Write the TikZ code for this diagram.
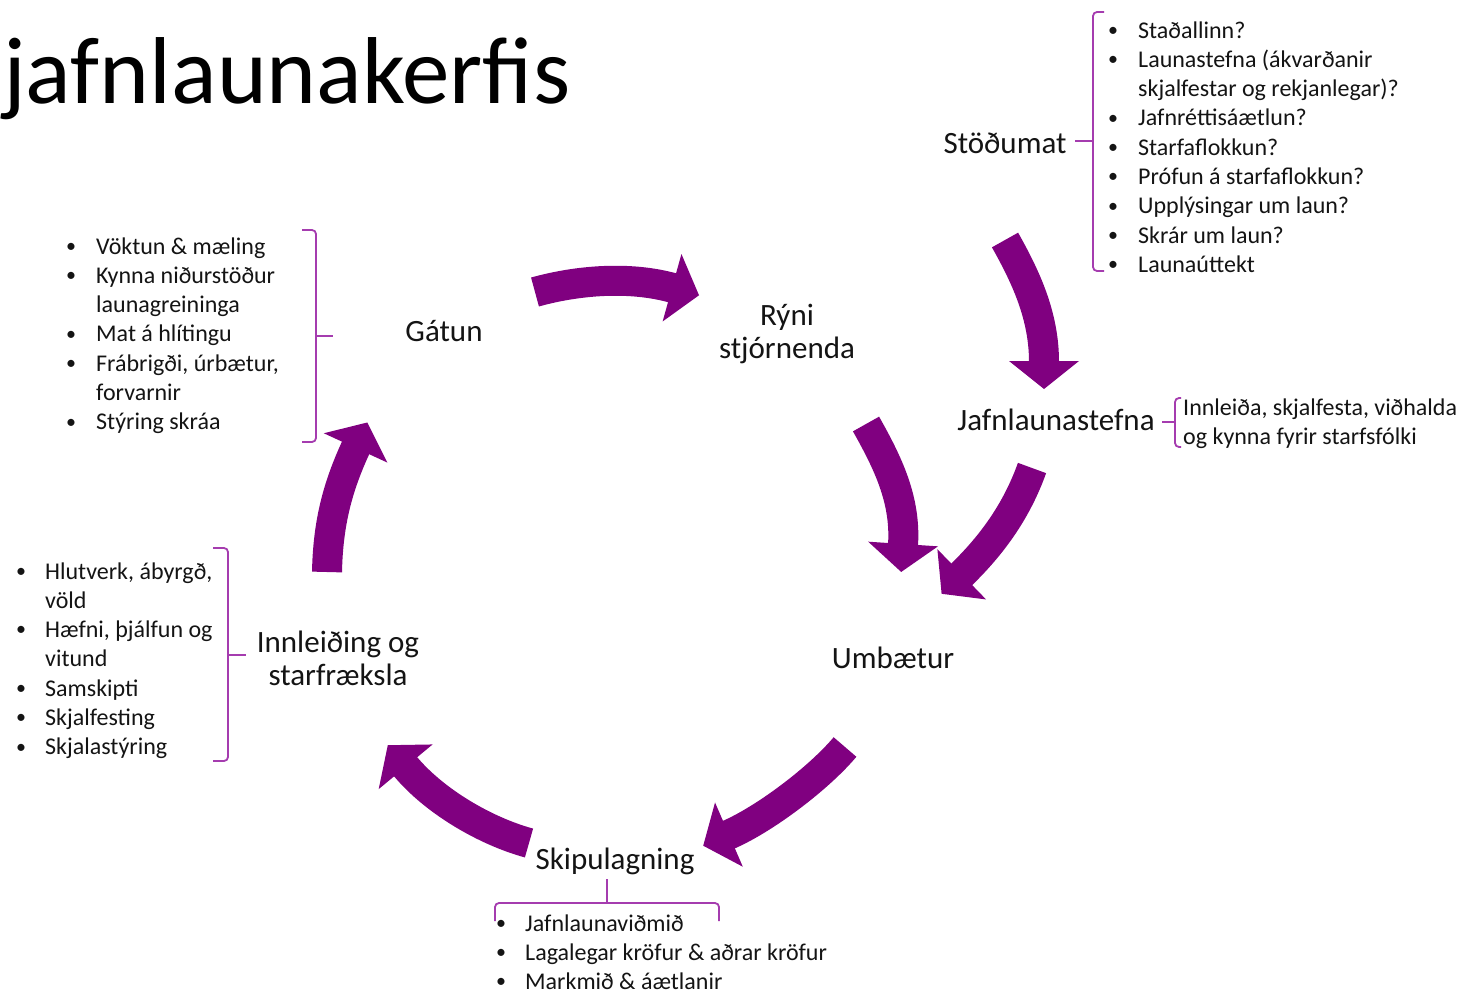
\documentclass[tikz,border=0pt]{standalone}
\usepackage{fontspec}
\setmainfont{Carlito}
\usetikzlibrary{calc}
\definecolor{arrowpurple}{RGB}{128,0,128}
\definecolor{bracepurple}{RGB}{165,60,175}
\definecolor{txt}{RGB}{20,20,20}
\newcommand\blockarrow[4]{%
  \draw[arrowshaft] #1 .. controls #2 and #3 .. #4;
  \coordinate (hb) at ($#4!1pt!#3$);
  \fill[arrowpurple] ($#4!-27pt!#3$) -- ($(hb)!35pt!90:#3$) -- ($(hb)!35pt!-90:#3$) -- cycle;
}
\newcommand\bl{\raisebox{1.8pt}{\fontsize{20}{20}\selectfont •}}
\newcommand\bulletlist[2]{\begin{tabular}[t]{@{}p{#1}@{}l@{}}#2\end{tabular}}
\begin{document}
\begin{tikzpicture}[x=1pt,y=-1pt,
  arrowshaft/.style={draw=arrowpurple, line width=30pt},
  bracestyle/.style={draw=bracepurple, line width=1.8pt, rounded corners=4pt},
  label/.style={inner sep=0pt, anchor=base, text=txt, font=\fontsize{31}{33}\selectfont},
  listtext/.style={inner sep=0pt, anchor=base west, text=txt, font=\fontsize{24}{29.3}\selectfont},
  title/.style={inner sep=0pt, anchor=base west, text=black, font=\fontsize{95}{100}\selectfont}]
\fill[white] (0,0) rectangle (1466,993);
\useasboundingbox (0,0) rectangle (1466,993);

% title
\node[title] (title) at (3,103) {jafnlaunakerfis};

% stage labels
\node[label] (stodumat) at (1005,153) {Stöðumat};
\node[label] (gatun) at (444,341) {Gátun};
\node[label] (ryni) at (787,325) {\begin{tabular}[t]{@{}c@{}}Rýni\\stjórnenda\end{tabular}};
\node[label] (jafnl) at (1056,430) {Jafnlaunastefna};
\node[label] (umbaetur) at (893,668) {Umbætur};
\node[label] (innleiding) at (338,652) {\begin{tabular}[t]{@{}c@{}}Innleiðing og\\starfræksla\end{tabular}};
\node[label] (skipul) at (615,869) {Skipulagning};

% lists
\node[listtext] (list1) at (1108,38) {\bulletlist{30pt}{%
\bl & Staðallinn?\\
\bl & Launastefna (ákvarðanir\\
  & skjalfestar og rekjanlegar)?\\
\bl & Jafnréttisáætlun?\\
\bl & Starfaflokkun?\\
\bl & Prófun á starfaflokkun?\\
\bl & Upplýsingar um laun?\\
\bl & Skrár um laun?\\
\bl & Launaúttekt}};

\node[listtext] (list2) at (66,254) {\bulletlist{30pt}{%
\bl & Vöktun \& mæling\\
\bl & Kynna niðurstöður\\
  & launagreininga\\
\bl & Mat á hlítingu\\
\bl & Frábrigði, úrbætur,\\
  & forvarnir\\
\bl & Stýring skráa}};

\node[listtext] (list3) at (16,579) {\bulletlist{29pt}{%
\bl & Hlutverk, ábyrgð,\\
  & völd\\
\bl & Hæfni, þjálfun og\\
  & vitund\\
\bl & Samskipti\\
\bl & Skjalfesting\\
\bl & Skjalastýring}};

\node[listtext] (list4) at (496,931) {\bulletlist{29pt}{%
\bl & Jafnlaunaviðmið\\
\bl & Lagalegar kröfur \& aðrar kröfur\\
\bl & Markmið \& áætlanir}};

\node[listtext] (list5) at (1183,415) {\begin{tabular}[t]{@{}l@{}}Innleiða, skjalfesta, viðhalda\\og kynna fyrir starfsfólki\end{tabular}};

% braces
\draw[bracestyle] (1104,12) -- (1093,12) -- (1093,271) -- (1104,271);
\draw[bracestyle] (1093,141) -- (1075,141);

\draw[bracestyle] (302,230) -- (316,230) -- (316,442) -- (302,442);
\draw[bracestyle] (316,336) -- (333,336);

\draw[bracestyle] (213,548) -- (228,548) -- (228,761) -- (213,761);
\draw[bracestyle] (228,655) -- (246,655);

\draw[bracestyle] (1181,398) -- (1175,398) -- (1175,447) -- (1181,447);
\draw[bracestyle] (1175,422) -- (1162,422);

\draw[bracestyle] (495,921) -- (495,903) -- (719,903) -- (719,921);
\draw[bracestyle] (607,903) -- (607,879);

% block arrows
\blockarrow{(535,292)}{(578,280)}{(630,276)}{(673,288)}
\blockarrow{(1005,240)}{(1027,279)}{(1044,317)}{(1044,362)}
\blockarrow{(866,424)}{(888,463)}{(906,500)}{(903,545)}
\blockarrow{(1032,468)}{(1017,510)}{(993,544)}{(961,575)}
\blockarrow{(845,747)}{(819,778)}{(765,819)}{(728,835)}
\blockarrow{(529,843)}{(485,831)}{(434,801)}{(405,766)}
\blockarrow{(327,572)}{(328,522)}{(338,486)}{(356,447)}
\end{tikzpicture}
\end{document}
